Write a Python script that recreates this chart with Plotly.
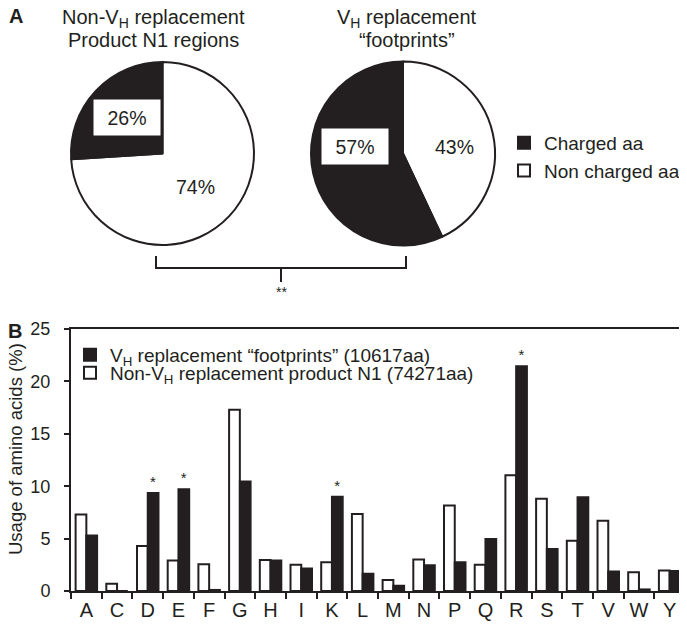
import plotly.graph_objects as go

# ---------------- dados ----------------
pie_labels = ["Non charged aa", "Charged aa"]
pie_non_vh = [74, 26]
pie_vh = [43, 57]
pie_titles = [["Non-V<sub>H</sub> replacement", "Product N1 regions"],
              ["V<sub>H</sub> replacement", "“footprints”"]]

aminoacidos = ["A", "C", "D", "E", "F", "G", "H", "I", "K", "L",
               "M", "N", "P", "Q", "R", "S", "T", "V", "W", "Y"]
uso_non_vh = [7.3, 0.7, 4.3, 2.9, 2.55, 17.3, 2.95, 2.5, 2.75, 7.35,
              1.05, 3.0, 8.15, 2.5, 11.05, 8.8, 4.8, 6.7, 1.8, 1.95]
uso_vh = [5.3, 0.0, 9.35, 9.7, 0.1, 10.45, 2.9, 2.15, 9.0, 1.65,
          0.5, 2.45, 2.75, 4.95, 21.45, 4.0, 8.95, 1.85, 0.15, 1.9]
significativo = ["", "", "*", "*", "", "", "", "", "*", "",
                 "", "", "", "", "*", "", "", "", "", ""]

nome_vh = "V<sub>H</sub> replacement “footprints” (10617aa)"
nome_non_vh = "Non-V<sub>H</sub> replacement product N1 (74271aa)"

PRETO = "#231f20"
FONTE = "Liberation Sans, Arial, sans-serif"

# a página tem 8px de margem no body
OFF = 8
W, H = 679, 620
ML, MR, MT, MB = 63, 2, 0, 37
PW, PH = W - ML - MR, H - MT - MB


def px(x):
    # coordenada da página -> paper
    return (x - OFF - ML) / PW


def py(y):
    return 1 - (y - OFF - MT) / PH


def texto(txt, x, y, size, **kw):
    d = dict(text=txt, x=px(x), y=py(y), xref="paper", yref="paper",
             xanchor="center", yanchor="middle", showarrow=False,
             font=dict(size=size, color=PRETO))
    d.update(kw)
    return d


fig = go.Figure()

# ----------- pizzas -----------
for valores, x0, x1 in [(pie_non_vh, 70, 254), (pie_vh, 311, 495)]:
    fig.add_trace(go.Pie(
        labels=pie_labels,
        values=valores,
        sort=False,
        direction="clockwise",
        rotation=0,
        textinfo="none",
        hoverinfo="label+percent",
        marker=dict(colors=["white", PRETO], line=dict(color=PRETO, width=2)),
        domain=dict(x=[max(px(x0), 0), px(x1)], y=[py(246), py(61)]),
        legend="legend",
    ))

# ----------- barras -----------
fig.add_trace(go.Bar(
    x=aminoacidos, y=uso_non_vh, name=nome_non_vh,
    marker=dict(color="white", line=dict(color=PRETO, width=2)),
    legend="legend3",
))
fig.add_trace(go.Bar(
    x=aminoacidos, y=uso_vh, name=nome_vh,
    marker=dict(color=PRETO, line=dict(color=PRETO, width=2)),
    text=significativo, textposition="outside", constraintext="none",
    textfont=dict(size=15, color=PRETO), cliponaxis=False,
    legend="legend2",
))

# rótulos de porcentagem
caixa = dict(bgcolor="white", bordercolor=PRETO, borderwidth=1.5,
             width=67, height=36, borderpad=0)
anotacoes = [
    texto(f"{pie_non_vh[1]}%", 127, 118, 19.5, **caixa),
    texto(f"{pie_non_vh[0]}%", 195, 187, 19.5),
    texto(f"{pie_vh[1]}%", 355, 146, 19.5, **caixa),
    texto(f"{pie_vh[0]}%", 454, 147, 19.5),
]

for linhas, x in zip(pie_titles, [153, 407]):
    anotacoes.append(texto(linhas[0], x, 19, 20))
    anotacoes.append(texto(linhas[1], x, 40, 20))

anotacoes += [
    texto("<b>A</b>", 16, 16, 20),
    texto("<b>B</b>", 15, 331, 20),
    texto("**", 281, 292, 14),
    texto("Usage of amino acids (%)", 15, 449, 18.5, textangle=-90),
]

# chave entre as pizzas
chave = (f"M{px(156)},{py(256)} L{px(156)},{py(268)} L{px(406)},{py(268)} "
         f"L{px(406)},{py(256)} M{px(281)},{py(268)} L{px(281)},{py(282)}")

fig.update_layout(
    width=W, height=H,
    margin=dict(l=ML, r=MR, t=MT, b=MB, autoexpand=False),
    paper_bgcolor="white", plot_bgcolor="white",
    font=dict(family=FONTE, color=PRETO, size=18),
    barmode="group", bargap=0.3, bargroupgap=0,
    showlegend=True,
    legend=dict(x=px(504), y=py(157), xanchor="left", yanchor="middle",
                traceorder="reversed", font=dict(size=19), bgcolor="rgba(0,0,0,0)"),
    legend2=dict(x=px(70), y=py(355), xanchor="left", yanchor="middle",
                 font=dict(size=19), bgcolor="rgba(0,0,0,0)"),
    legend3=dict(x=px(70), y=py(373), xanchor="left", yanchor="middle",
                 font=dict(size=19), bgcolor="rgba(0,0,0,0)"),
    annotations=anotacoes,
    shapes=[dict(type="path", path=chave, xref="paper", yref="paper",
                 line=dict(color=PRETO, width=2))],
    xaxis=dict(domain=[0, 1], showline=True, mirror=True, linecolor=PRETO, linewidth=2,
               ticks="outside", tickson="boundaries", ticklen=6, tickwidth=2,
               tickcolor=PRETO, tickfont=dict(size=20), showgrid=False,
               automargin=False),
    yaxis=dict(domain=[0, py(329)], range=[0, 25], dtick=5, showline=True, mirror=True,
               linecolor=PRETO, linewidth=2, ticks="outside", ticklen=5, tickwidth=2,
               tickcolor=PRETO, tickfont=dict(size=18), showgrid=False, zeroline=False,
               ticklabelstandoff=10, automargin=False),
)

fig.write_html("out.html")
